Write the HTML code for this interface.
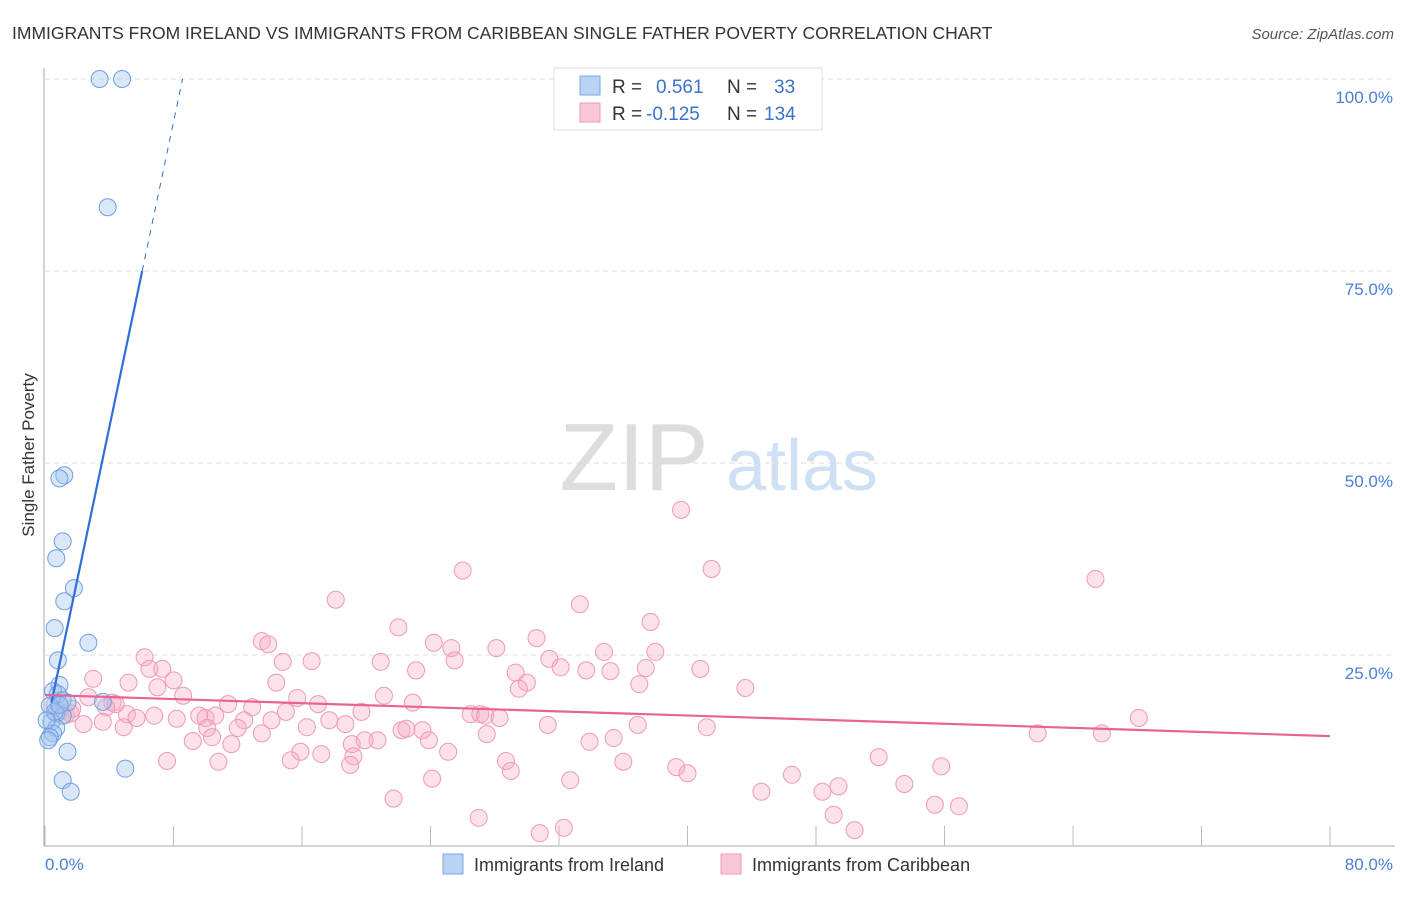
<!DOCTYPE html>
<html><head><meta charset="utf-8"><style>
body{margin:0;background:#fff;font-family:"Liberation Sans",sans-serif;}
svg text{font-family:"Liberation Sans",sans-serif;}
</style></head><body>
<svg id="chart" width="1406" height="892" xmlns="http://www.w3.org/2000/svg">
<text x="12" y="39" font-size="17.5" fill="#333">IMMIGRANTS FROM IRELAND VS IMMIGRANTS FROM CARIBBEAN SINGLE FATHER POVERTY CORRELATION CHART</text>
<text x="1394" y="39" font-size="15" fill="#555" font-style="italic" text-anchor="end">Source: ZipAtlas.com</text>
<g id="grid"></g>
<g>
<text x="634" y="490" font-size="96" font-family="Liberation Serif,serif" fill="#ddd" text-anchor="middle">ZIP</text>
<text x="802" y="490" font-size="72" fill="#cfe0f4" text-anchor="middle">atlas</text>
</g>
<line x1="44" y1="68" x2="44" y2="846" stroke="#aaa"/>
<line x1="44" y1="846" x2="1395" y2="846" stroke="#aaa"/>
<g id="xticks"></g>
<g id="ylabels"></g>
<text x="45" y="870" font-size="17" fill="#4a7fd4">0.0%</text>
<text x="1393" y="870" font-size="17" fill="#4a7fd4" text-anchor="end">80.0%</text>
<text transform="translate(34,455) rotate(-90)" font-size="17" fill="#333" text-anchor="middle">Single Father Poverty</text>
<g id="pink"></g>
<g id="blue"></g>
<g id="lines"></g>
<g>
<rect x="554" y="68" width="268" height="62" fill="#fff" stroke="#ddd"/>
<rect x="580" y="76" width="20" height="19" fill="#b9d3f3" stroke="#7aa7e3"/>
<rect x="580" y="103" width="20" height="19" fill="#f9c8d6" stroke="#ee9ab3"/>
<text x="612" y="93" font-size="19" fill="#333">R =</text>
<text x="656" y="93" font-size="19" fill="#3b73cc">0.561</text>
<text x="727" y="93" font-size="19" fill="#333">N =</text>
<text x="774" y="93" font-size="19" fill="#3b73cc">33</text>
<text x="612" y="120" font-size="19" fill="#333">R =</text>
<text x="646" y="120" font-size="19" fill="#3b73cc">-0.125</text>
<text x="727" y="120" font-size="19" fill="#333">N =</text>
<text x="764" y="120" font-size="19" fill="#3b73cc">134</text>
</g>
<g>
<rect x="443" y="854" width="20" height="20" fill="#b9d3f3" stroke="#7aa7e3"/>
<text x="474" y="871" font-size="18" fill="#333">Immigrants from Ireland</text>
<rect x="721" y="854" width="20" height="20" fill="#f9c8d6" stroke="#ee9ab3"/>
<text x="752" y="871" font-size="18" fill="#333">Immigrants from Caribbean</text>
</g>
</svg>
<script>
const yTicks=[25,50,75,100];
const yTickLabels=["25.0%","50.0%","75.0%","100.0%"];
const xTicks=[0,8,16,24,32,40,48,56,64,72,80];
const pinkX=[39.6,26.0,41.5,65.4,18.1,33.3,37.7,22.0,30.6,13.5,13.9,24.2,25.3,28.1,34.8,38.0,6.2,14.8,16.6,20.9,25.5,31.4,32.1,23.1,33.7,35.2,37.4,40.8,6.5,7.3,8.0,3.0,5.2,30.0,29.3,37.0,14.4,29.5,43.6,7.0,2.7,8.6,15.7,21.1,4.2,4.4,11.4,12.9,17.0,3.8,22.9,1.7,5.1,6.8,9.6,8.2,10.0,10.6,19.7,26.5,27.1,27.4,28.3,14.1,15.0,3.6,5.7,12.4,12.0,10.1,2.4,4.9,17.7,18.7,16.3,22.2,22.5,23.5,31.3,36.9,41.2,61.8,65.8,68.1,9.2,13.5,10.4,11.6,27.5,23.9,20.7,19.1,19.9,35.4,33.9,15.9,17.2,19.2,25.1,7.6,10.8,15.3,19.0,28.7,29.0,36.0,39.3,40.0,46.5,51.9,55.8,24.1,32.7,44.6,48.4,49.4,53.5,21.7,55.4,56.9,49.1,27.0,30.8,32.3,50.4,0.9,1.3,0.6,1.6];
const pinkY=[43.9,36.0,36.2,34.9,32.2,31.6,29.3,28.6,27.2,26.8,26.4,26.6,25.9,25.9,25.4,25.4,24.7,24.1,24.2,24.1,24.3,24.5,23.4,23.0,23.0,22.9,23.3,23.2,23.2,23.2,21.7,21.9,21.4,21.4,22.7,21.2,21.4,20.6,20.7,20.8,19.5,19.7,19.4,19.7,18.8,18.6,18.6,18.2,18.6,18.2,18.8,18.0,17.3,17.1,17.1,16.7,16.8,17.1,17.6,17.3,17.3,17.1,16.8,16.5,17.6,16.3,16.8,16.5,15.5,15.5,16.0,15.6,16.5,16.0,15.6,15.2,15.4,15.2,15.9,15.9,15.6,14.8,14.8,16.8,13.8,14.8,14.3,13.4,14.7,13.9,13.9,13.4,13.9,14.2,13.7,12.4,12.1,11.8,12.4,11.2,11.1,11.3,10.7,11.2,9.9,11.1,10.4,9.6,9.4,11.7,10.5,8.9,8.7,7.2,7.2,7.9,8.2,6.3,5.5,5.3,4.2,3.8,1.8,2.5,2.2,17.6,17.2,18.5,17.4];
const blueX=[3.4,4.8,3.9,1.2,0.9,1.1,0.7,1.8,1.2,0.6,2.7,0.8,0.9,0.5,0.8,1.1,1.4,0.3,0.7,1.1,3.6,0.4,0.7,0.5,0.3,1.4,5.0,1.1,1.6,0.2,0.6,0.9,0.1];
const blueY=[100,100,83.3,48.4,48.0,39.8,37.6,33.7,32.0,28.5,26.6,24.3,21.1,20.3,19.9,19.1,18.8,18.4,17.4,17.1,18.9,16.3,15.5,14.8,14.3,12.4,10.2,8.7,7.2,13.9,17.6,18.5,16.5];
const blueTrend=[14.8,9.95];
const pinkTrend=[19.8,-0.067];
const NS="http://www.w3.org/2000/svg";
const sx=v=>45+v/80*1285;
const sy=v=>847-v/100*768;
function mk(tag,attrs,parent){const e=document.createElementNS(NS,tag);for(const k in attrs)e.setAttribute(k,attrs[k]);document.getElementById(parent).appendChild(e);return e;}
yTicks.forEach((t,i)=>{
 const g=mk('line',{x1:45,x2:1395,y1:sy(t),y2:sy(t),stroke:'#ddd','stroke-dasharray':'5,4'},'grid');
 
 
 const l=mk('text',{x:1393,y:sy(t)+24,'font-size':17,fill:'#4a7fd4','text-anchor':'end'},'ylabels');
 l.textContent=yTickLabels[i];
 
 
});
xTicks.forEach(t=>{
 const k=mk('line',{x1:sx(t),x2:sx(t),y1:826,y2:846,stroke:'#bbb'},'xticks');
 
 
});
pinkX.forEach((x,i)=>{
 const c=mk('circle',{cx:sx(x),cy:sy(pinkY[i]),r:8.5,fill:'rgba(246,170,195,0.35)',stroke:'#ee9ab3','stroke-width':1},'pink');
 
 
});
blueX.forEach((x,i)=>{
 const c=mk('circle',{cx:sx(x),cy:sy(blueY[i]),r:8.5,fill:'rgba(160,195,240,0.4)',stroke:'#6f9fe0','stroke-width':1},'blue');
 
 
});
const bx1=0.4,bx2=(75-blueTrend[0])/blueTrend[1],bx3=(100-blueTrend[0])/blueTrend[1];
const bl=mk('line',{x1:sx(bx1),y1:sy(blueTrend[0]+blueTrend[1]*bx1),x2:sx(bx2),y2:sy(75),stroke:'#2f6fd6','stroke-width':2.2},'lines');


const bd=mk('line',{x1:sx(bx2),y1:sy(75),x2:sx(bx3),y2:sy(100),stroke:'#2f6fd6','stroke-width':1,'stroke-dasharray':'6,6'},'lines');


const pl=mk('line',{x1:sx(0),y1:sy(pinkTrend[0]),x2:sx(80),y2:sy(pinkTrend[0]+pinkTrend[1]*80),stroke:'#e8638f','stroke-width':2.2},'lines');


</script>
</body></html>
